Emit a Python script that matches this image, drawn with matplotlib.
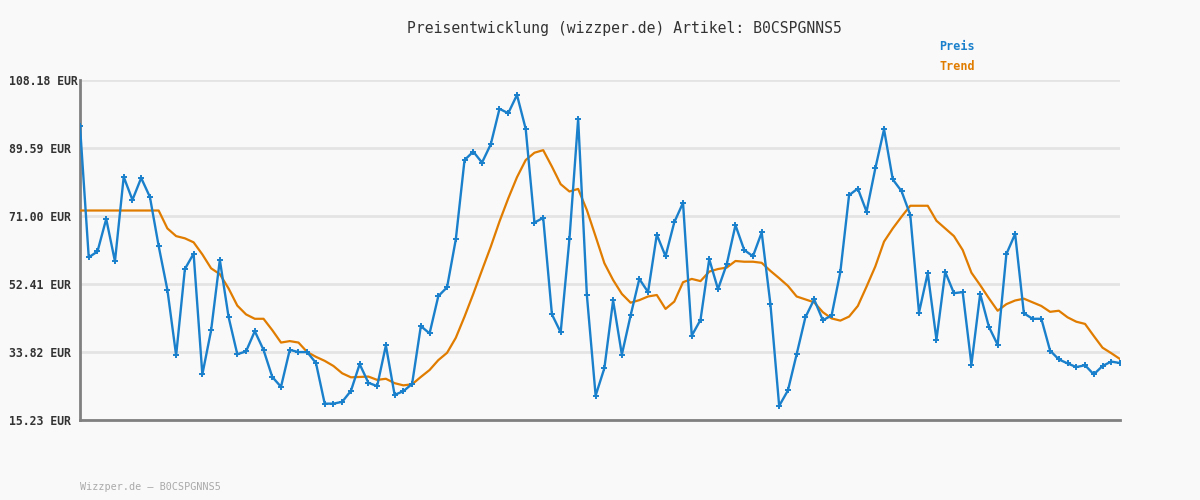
import matplotlib
matplotlib.use("Agg")
import matplotlib.pyplot as plt

title = "Preisentwicklung (wizzper.de) Artikel: B0CSPGNNS5"
footer = "Wizzper.de – B0CSPGNNS5"
series_names = ["Preis", "Trend"]
ytick_values = [15.23, 33.82, 52.41, 71.00, 89.59, 108.18]
ytick_labels = ["15.23 EUR", "33.82 EUR", "52.41 EUR", "71.00 EUR", "89.59 EUR", "108.18 EUR"]

preis = [
    95.6, 59.7, 61.3, 70.2, 58.6, 81.7, 75.4, 81.4, 76.2, 62.8,
    50.8, 32.9, 56.5, 60.7, 27.7, 39.7, 59.0, 43.4, 33.2, 34.0,
    39.5, 34.4, 27.0, 24.3, 34.4, 33.8, 33.8, 30.8, 19.7, 19.7,
    20.2, 23.2, 30.5, 25.4, 24.5, 35.6, 22.1, 23.1, 25.1, 40.9,
    38.9, 49.1, 51.5, 64.6, 86.3, 88.6, 85.6, 90.6, 100.3, 99.1,
    104.1, 94.8, 69.2, 70.5, 44.1, 39.2, 64.6, 97.5, 49.3, 21.9,
    29.4, 47.9, 33.1, 43.8, 53.8, 50.2, 65.9, 60.0, 69.3, 74.6,
    38.3, 42.6, 59.2, 51.0, 57.8, 68.5, 61.7, 60.0, 66.5, 46.9,
    19.1, 23.3, 33.2, 43.3, 48.2, 42.5, 43.8, 55.7, 76.7, 78.5,
    72.2, 84.0, 94.7, 81.0, 77.8, 71.3, 44.6, 55.4, 37.2, 55.7,
    49.9, 50.2, 30.4, 49.7, 40.7, 35.8, 60.6, 66.1, 44.4, 42.9,
    42.9, 34.2, 31.8, 30.7, 29.7, 30.2, 27.7, 30.0, 31.2, 30.8,
]

trend = [
    72.5, 72.5, 72.5, 72.5, 72.5, 72.5, 72.5, 72.5, 72.5, 72.5,
    67.6, 65.5, 64.9, 63.8, 60.5, 56.7, 55.1, 51.2, 46.5, 44.1,
    42.9, 42.9, 39.8, 36.4, 36.8, 36.4, 33.8, 32.5, 31.4, 30.0,
    28.0, 26.9, 27.0, 27.1, 26.2, 26.5, 25.3, 24.7, 25.0, 27.0,
    28.9, 31.6, 33.6, 37.7, 43.5, 49.7, 56.2, 62.6, 69.5, 75.8,
    81.6, 86.3, 88.3, 89.0, 84.5, 79.7, 77.7, 78.4, 72.6, 65.4,
    58.1, 53.5, 49.7, 47.3, 48.0, 49.0, 49.4, 45.6, 47.6, 52.9,
    53.8, 53.2, 55.8, 56.5, 56.9, 58.7, 58.5, 58.5, 58.2, 56.0,
    54.0, 51.9, 49.0, 48.2, 47.4, 44.7, 43.0, 42.4, 43.5, 46.4,
    51.7, 57.2, 64.0, 67.6, 70.8, 73.8, 73.8, 73.8, 69.7, 67.6,
    65.5, 61.7, 55.5, 52.1, 48.5, 45.1, 46.9, 47.9, 48.4, 47.4,
    46.4, 44.8, 45.1, 43.3, 42.1, 41.5, 38.2, 35.0, 33.5, 31.9,
]

BG = "#f9f9f9"
BLUE = "#1a80cc"
ORANGE = "#e07c00"

fig = plt.figure(figsize=(12, 5), dpi=100, facecolor=BG)
ax = fig.add_axes([80 / 1200, 80 / 500, 1040 / 1200, 340 / 500])
ax.set_facecolor(BG)

x = list(range(len(preis)))
ax.plot(x, trend, color=ORANGE, lw=1.6, zorder=3)
ax.plot(x, preis, color=BLUE, lw=1.7, marker="+", ms=4.5, mew=1.4, zorder=4)

ax.set_xlim(0, len(preis) - 1)
ax.set_ylim(ytick_values[0], ytick_values[-1])
ax.set_xticks([])
ax.set_yticks(ytick_values)
ax.set_yticklabels(ytick_labels, fontfamily="DejaVu Sans Mono", fontweight="bold",
                   fontsize=8.3, color="#333333")
ax.tick_params(axis="y", length=0, pad=51)
for lab in ax.get_yticklabels():
    lab.set_horizontalalignment("left")

ax.grid(axis="y", color="#e4e4e4", lw=2, zorder=0)
ax.set_axisbelow(True)
for s in ["top", "right"]:
    ax.spines[s].set_visible(False)
for s in ["left", "bottom"]:
    ax.spines[s].set_color("#808080")
    ax.spines[s].set_linewidth(2)

fig.text(624 / 1200, 1 - 28 / 500, title, ha="center", va="center",
         fontfamily="DejaVu Sans Mono", fontsize=10.6, color="#333333")
fig.text(939 / 1200, 1 - 47 / 500, series_names[0], ha="left", va="center",
         fontfamily="DejaVu Sans Mono", fontweight="bold", fontsize=8.5, color=BLUE)
fig.text(939 / 1200, 1 - 67 / 500, series_names[1], ha="left", va="center",
         fontfamily="DejaVu Sans Mono", fontweight="bold", fontsize=8.5, color=ORANGE)
fig.text(80 / 1200, 1 - 487 / 500, footer, ha="left", va="center",
         fontfamily="DejaVu Sans Mono", fontsize=7.3, color="#aaaaaa")

fig.savefig("out.png", dpi=100, facecolor=BG)
